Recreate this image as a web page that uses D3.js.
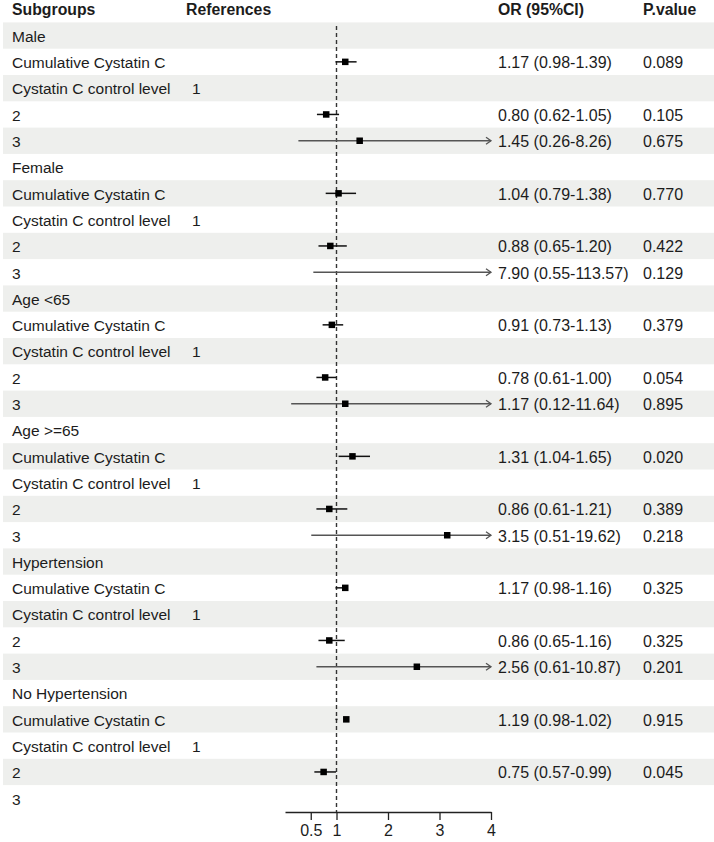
<!DOCTYPE html>
<html>
<head>
<meta charset="utf-8">
<script src="https://cdn.jsdelivr.net/npm/d3@7"></script>
<style>
  body { margin: 0; background: #fff; }
  svg text { font-family: "Liberation Sans", Arial, sans-serif; fill: #1c1c1c; }
</style>
</head>
<body>
<svg id="chart" width="714" height="842"></svg>
<script>
// row labels, one per line of the table
const labels = [
  "Male", "Cumulative Cystatin C", "Cystatin C control level", "2", "3",
  "Female", "Cumulative Cystatin C", "Cystatin C control level", "2", "3",
  "Age <65", "Cumulative Cystatin C", "Cystatin C control level", "2", "3",
  "Age >=65", "Cumulative Cystatin C", "Cystatin C control level", "2", "3",
  "Hypertension", "Cumulative Cystatin C", "Cystatin C control level", "2", "3",
  "No Hypertension", "Cumulative Cystatin C", "Cystatin C control level", "2", "3"
];
const refs = labels.map(l => l === "Cystatin C control level" ? "1" : "");

// odds ratios and CIs (null = nothing drawn)
const est = [null, 1.17, null, 0.80, 1.45,  null, 1.04, null, 0.88, 7.90,
             null, 0.91, null, 0.78, 1.17,  null, 1.31, null, 0.86, 3.15,
             null, 1.17, null, 0.86, 2.56,  null, 1.19, null, 0.75, null];
const lower = [null, 0.98, null, 0.62, 0.26,  null, 0.79, null, 0.65, 0.55,
               null, 0.73, null, 0.61, 0.12,  null, 1.04, null, 0.61, 0.51,
               null, 0.98, null, 0.65, 0.61,  null, 0.98, null, 0.57, null];
const upper = [null, 1.39, null, 1.05, 8.26,  null, 1.38, null, 1.20, 113.57,
               null, 1.13, null, 1.00, 11.64, null, 1.65, null, 1.21, 19.62,
               null, 1.16, null, 1.16, 10.87, null, 1.02, null, 0.99, null];
const pvals = ["", "0.089", "", "0.105", "0.675",  "", "0.770", "", "0.422", "0.129",
               "", "0.379", "", "0.054", "0.895",  "", "0.020", "", "0.389", "0.218",
               "", "0.325", "", "0.325", "0.201",  "", "0.915", "", "0.045", ""];

const ticks = [0.5, 1, 2, 3, 4];

const rows = labels.map((l, i) => ({
  i: i, label: l, ref: refs[i], est: est[i], lo: lower[i], hi: upper[i], p: pvals[i]
}));

const svg = d3.select("#chart");

const x = d3.scaleLinear().domain([0, 4]).range([285, 491]);
const y = d3.scaleBand().domain(d3.range(labels.length)).range([22.4, 811.4]);
const fs = 15.5;   // label text
const fsNum = 16;  // numeric columns

// shaded bands on every other row
svg.selectAll("rect.band").data(rows.filter(d => d.i % 2 === 0)).enter()
  .append("rect").attr("class", "band")
  .attr("x", 3).attr("width", 711)
  .attr("y", d => y(d.i)).attr("height", y.bandwidth())
  .attr("fill", "#eeefed");

// headers
const headers = [
  {t: "Subgroups", x: 12}, {t: "References", x: 186},
  {t: "OR (95%CI)", x: 498}, {t: "P.value", x: 643}
];
svg.selectAll("text.head").data(headers).enter()
  .append("text").attr("class", "head")
  .attr("x", d => d.x).attr("y", 15)
  .attr("font-size", 15.8).attr("font-weight", "bold")
  .text(d => d.t);

const mid = d => y(d.i) + y.bandwidth() / 2;

// table text
const g = svg.append("g");
g.selectAll("text.lab").data(rows).enter()
  .append("text").attr("class", "lab")
  .attr("x", 12).attr("y", d => mid(d) + 6.3)
  .attr("font-size", fs).text(d => d.label);

g.selectAll("text.ref").data(rows.filter(d => d.ref)).enter()
  .append("text").attr("class", "ref")
  .attr("x", 192).attr("y", d => mid(d) + 6.3)
  .attr("font-size", fs).text(d => d.ref);

const withCI = rows.filter(d => d.est !== null);

g.selectAll("text.or").data(withCI).enter()
  .append("text").attr("class", "or")
  .attr("x", 498).attr("y", d => mid(d) + 6.3)
  .attr("font-size", fsNum)
  .text(d => `${d.est.toFixed(2)} (${d.lo.toFixed(2)}-${d.hi.toFixed(2)})`);

g.selectAll("text.p").data(withCI).enter()
  .append("text").attr("class", "p")
  .attr("x", 643).attr("y", d => mid(d) + 6.3)
  .attr("font-size", fsNum).text(d => d.p);

// reference line at OR = 1
svg.append("line")
  .attr("x1", x(1)).attr("x2", x(1))
  .attr("y1", 26).attr("y2", 812)
  .attr("stroke", "#333").attr("stroke-width", 1.4)
  .attr("stroke-dasharray", "4,3");

// CI lines
const xmax = x.domain()[1];
const ci = svg.append("g");
ci.selectAll("line.ci").data(withCI).enter()
  .append("line").attr("class", "ci")
  .attr("x1", d => x(Math.max(d.lo, 0)))
  .attr("x2", d => x(Math.min(d.hi, xmax)))
  .attr("y1", mid).attr("y2", mid)
  .attr("stroke", d => d.hi > xmax ? "#555" : "#111")
  .attr("stroke-width", d => d.hi > xmax ? 1.3 : 1.5);

// open arrow heads where CI runs past the axis
ci.selectAll("path.arrow").data(withCI.filter(d => d.hi > xmax)).enter()
  .append("path").attr("class", "arrow")
  .attr("d", d => `M${x(xmax) - 5},${mid(d) - 3.5}L${x(xmax)},${mid(d)}L${x(xmax) - 5},${mid(d) + 3.5}`)
  .attr("fill", "none").attr("stroke", "#555").attr("stroke-width", 1.3);

// point estimates
const sq = 6.5;
ci.selectAll("rect.pt").data(withCI.filter(d => d.est <= xmax)).enter()
  .append("rect").attr("class", "pt")
  .attr("x", d => x(d.est) - sq / 2).attr("y", d => mid(d) - sq / 2)
  .attr("width", sq).attr("height", sq)
  .attr("fill", "#000");

// x axis
const axis = svg.append("g")
  .attr("transform", "translate(0,812)")
  .call(d3.axisBottom(x).tickValues(ticks).tickFormat(d => d)
    .tickSize(8).tickSizeOuter(0).tickPadding(5));
axis.select(".domain").attr("stroke", "#222").attr("stroke-width", 1.3);
axis.selectAll(".tick line").attr("stroke", "#222").attr("stroke-width", 1.3);
axis.selectAll(".tick text")
  .attr("font-size", 16).attr("fill", "#1c1c1c")
  .attr("font-family", "Liberation Sans, Arial, sans-serif");
</script>
</body>
</html>
